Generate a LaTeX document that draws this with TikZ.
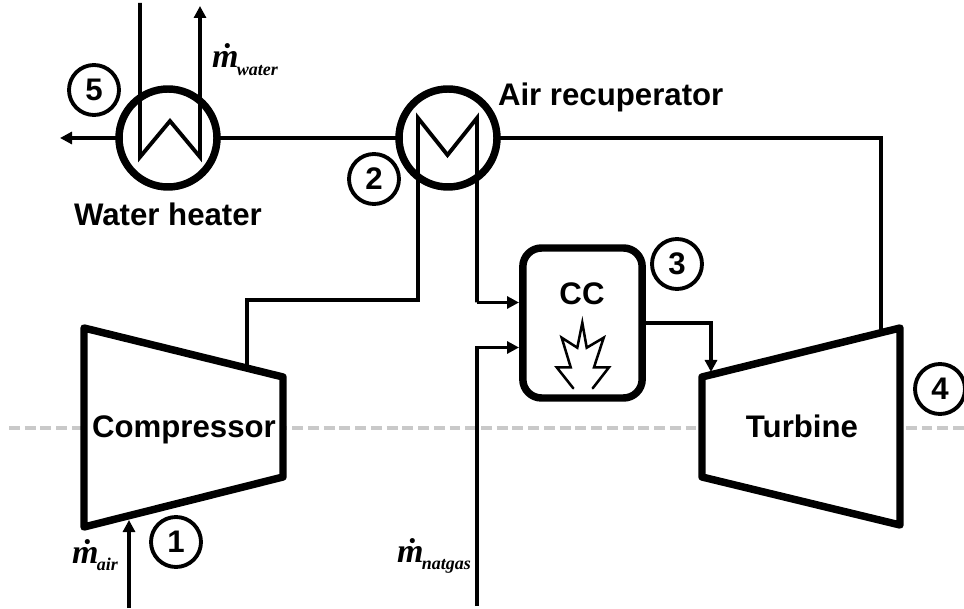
\documentclass[tikz,border=0pt]{standalone}
\usepackage{fontspec}
\setmainfont{Liberation Sans}
\newfontfamily\timesfont{Liberation Serif}
\usetikzlibrary{arrows.meta}
\tikzset{
  x=0.75pt,y=-0.75pt,
  thick line/.style={line width=5.6pt,line join=round,line cap=round},
  flow/.style={line width=2.9pt,line join=miter},
  flowarrow/.style={flow,-{Triangle[length=9pt,width=9pt]}},
  hx/.style={circle,draw,line width=5.6pt,minimum size=73.5pt,inner sep=0pt,outer sep=0pt},
  statenum/.style={circle,draw,line width=2.9pt,minimum size=37.5pt,inner sep=0pt,outer sep=0pt,font=\fontsize{23.4}{28}\selectfont\bfseries},
  lbl/.style={inner sep=0pt,outer sep=0pt,anchor=base,font=\fontsize{23.4}{28}\selectfont\bfseries},
  flowlbl/.style={inner sep=0pt,outer sep=0pt,anchor=base west,font=\timesfont\bfseries\itshape\fontsize{25.5}{30}\selectfont},
  cyclebase/.style={draw=black!21,line width=3pt,dash pattern=on 8.2pt off 3.6pt},
}
\newcommand{\flowtext}[1]{\.m\kern-1.1pt\raisebox{-5.6pt}{\fontsize{13.5}{16}\selectfont #1}}
\begin{document}
\begin{tikzpicture}
\useasboundingbox (0,0) rectangle (964,609);
% reference line
\coordinate (baseA) at (9,428);
\coordinate (baseB) at (964,428);
\draw[cyclebase] (baseA) -- (baseB);
% waypoints
\coordinate (compL) at (84,328);
\coordinate (compTR) at (283,377);
\coordinate (compBR) at (283,477);
\coordinate (compBL) at (84,527);
\coordinate (turbTL) at (702,377);
\coordinate (turbTR) at (900,328);
\coordinate (turbBR) at (900,525);
\coordinate (turbBL) at (702,477);
\coordinate (compOut) at (247,368);
\coordinate (airIn) at (129,608);
\coordinate (airTip) at (129,520);
\coordinate (gasIn) at (477,606);
\coordinate (gasCorner) at (477,347.5);
\coordinate (gasTip) at (519,347.5);
\coordinate (recIn) at (418,118);
\coordinate (recKnee) at (418,300);
\coordinate (recKnee2) at (247,300);
\coordinate (recMid) at (447.5,155);
\coordinate (recOut) at (477,118);
\coordinate (recCorner) at (477,302.5);
\coordinate (ccTip) at (519,302.5);
\coordinate (ccOutA) at (646,323);
\coordinate (ccOutB) at (711,323);
\coordinate (turbTip) at (711,372);
\coordinate (turbOut) at (881,332);
\coordinate (turbCorner) at (881,138);
\coordinate (out5) at (60,138);
\coordinate (wIn) at (140,3);
\coordinate (wA) at (140,157);
\coordinate (wMid) at (170,121);
\coordinate (wB) at (200,157);
\coordinate (wOut) at (200,6);
% exchangers
\node[hx] (heater) at (168,138) {};
\node[hx] (recup) at (448,138) {};
% connectors
\draw[flow] (compOut) -- (recKnee2) -- (recKnee) -- (recIn) -- (recMid) -- (recOut) -- (recCorner);
\draw[flowarrow] (recCorner) -- (ccTip);
\draw[flowarrow] (gasIn) -- (gasCorner) -- (gasTip);
\draw[flowarrow] (ccOutA) -- (ccOutB) -- (turbTip);
\draw[flowarrow] (airIn) -- (airTip);
\draw[flow] (turbOut) -- (turbCorner) -- (recup.east);
\draw[flow] (recup.west) -- (heater.east);
\draw[flowarrow] (heater.west) -- (out5);
\draw[flowarrow,line join=miter] (wIn) -- (wA) -- (wMid) -- (wB) -- (wOut);
% machines
\draw[thick line,fill=white] (compL) -- (compTR) -- (compBR) -- (compBL) -- cycle;
\draw[thick line,fill=white] (turbTL) -- (turbTR) -- (turbBR) -- (turbBL) -- cycle;
\node[draw,fill=white,line width=5.6pt,rounded corners=14pt,minimum width=89.5pt,minimum height=112.5pt,inner sep=0pt,outer sep=0pt] (cc) at (582.5,323) {};
% flame
\draw[line width=1.9pt,line join=miter,line cap=round]
  (573.3,388.3) -- (556.7,367.3) -- (570.7,367.3) -- (561.7,337.7) -- (577.3,347.7) -- (582.3,322.7) -- (586.7,347.7) -- (603.7,337.7) -- (594,367.3) -- (609,367.3) -- (592.7,388.3);
% labels
\node[lbl] (compLabel) at (184,438) {Compressor};
\node[lbl] (turbLabel) at (802,438) {Turbine};
\node[lbl] (ccLabel) at (582,305) {CC};
\node[lbl] (heaterLabel) at (168,226) {Water heater};
\node[lbl,anchor=base west] (recupLabel) at (498,106) {Air recuperator};
\node[statenum] (s1) at (176,542) {1};
\node[statenum] (s2) at (374,179) {2};
\node[statenum] (s3) at (677,264) {3};
\node[statenum] (s4) at (940,389) {4};
\node[statenum] (s5) at (94,90) {5};
\node[flowlbl] (mwater) at (212,68) {\flowtext{water}};
\node[flowlbl] (mair) at (72,563) {\flowtext{air}};
\node[flowlbl] (mgas) at (397,562) {\flowtext{natgas}};
\end{tikzpicture}
\end{document}
